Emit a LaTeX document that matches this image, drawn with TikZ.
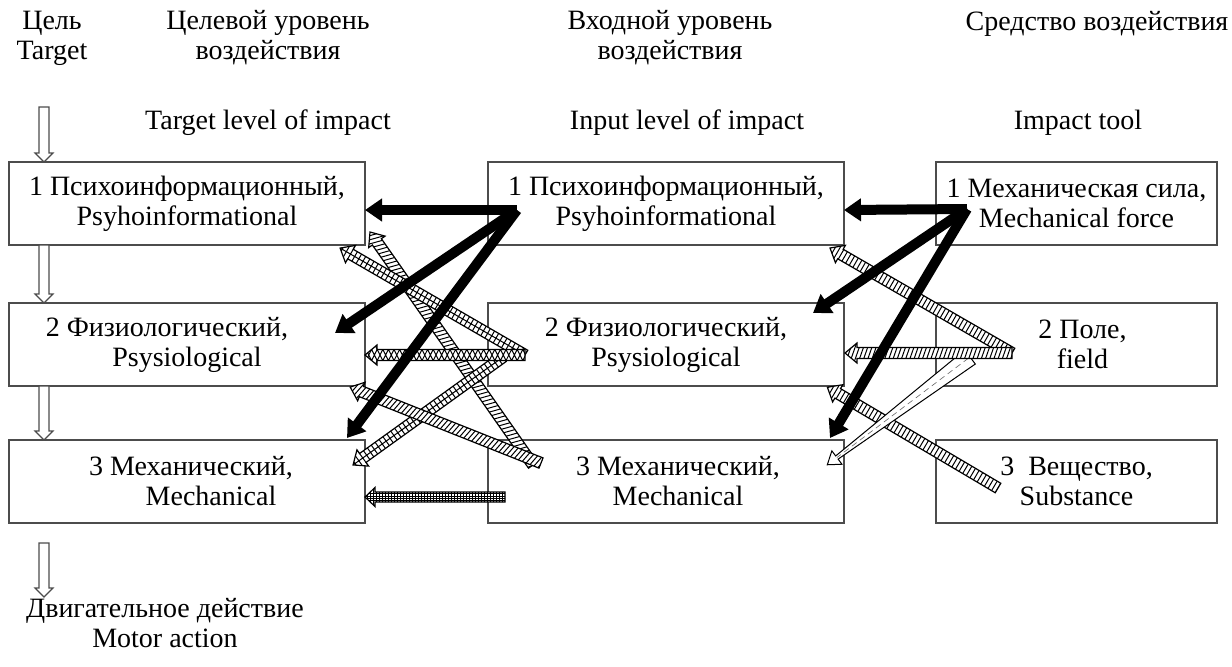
\documentclass[tikz,border=0pt]{standalone}
\usepackage{fontspec}
\setmainfont{Liberation Serif}
\usetikzlibrary{calc,arrows.meta}

% direction and length between two named coordinates
\newcommand\getdir[2]{%
  \pgfpointdiff{\pgfpointanchor{#1}{center}}{\pgfpointanchor{#2}{center}}%
  \pgfgetlastxy{\FAdx}{\FAdy}%
  \pgfmathsetmacro\FAang{atan2(\FAdy,\FAdx)}%
  \pgfmathsetmacro\FAlen{veclen(\FAdx,\FAdy)}}

% hatch fillings in local (arrow) coordinates
\newcommand\hatchnone{}
\newcommand\hatchdiag{\draw[hatchline] \foreach \i in {-4,...,75}{ ({\i*2.1pt},-5pt) -- ({\i*2.1pt+3.5pt},5pt) };}
\newcommand\hatchrungs{\draw[hatchline] \foreach \i in {-2,...,75}{ ({\i*2.1pt},-5pt) -- ({\i*2.1pt},5pt) };}
\newcommand\hatchladder{\draw[hatchline] \foreach \i in {-2,...,75}{ ({\i*2.4pt},-5pt) -- ({\i*2.4pt},5pt) } (-2pt,0pt) -- ({\FAlen pt},0pt);}
\newcommand\hatchcross{\draw[hatchline] \foreach \i in {-4,...,60}{ ({\i*2.8pt},-5pt) -- ({\i*2.8pt+5pt},5pt) ({\i*2.8pt},5pt) -- ({\i*2.8pt+5pt},-5pt) };}
\newcommand\hatchgrid{\draw[hatchline,line width=0.4pt] \foreach \i in {-2,...,100}{ ({\i*1.5pt},-5pt) -- ({\i*1.5pt},5pt) } (-2pt,-1.6pt) -- ({\FAlen pt},-1.6pt) (-2pt,-0.55pt) -- ({\FAlen pt},-0.55pt) (-2pt,0.55pt) -- ({\FAlen pt},0.55pt) (-2pt,1.6pt) -- ({\FAlen pt},1.6pt);}

% #1 start, #2 end, #3 hatch, #4 shaft half width, #5 head half width, #6 head length, #7 outline colour
\newcommand\fatarrow[7]{%
  \getdir{#1}{#2}%
  \pgfmathsetmacro\FAb{\FAlen-#6}%
  \def\FAshape{(0pt,-#4pt) -- (\FAb pt,-#4pt) -- (\FAb pt,-#5pt) -- (\FAlen pt,0pt) -- (\FAb pt,#5pt) -- (\FAb pt,#4pt) -- (0pt,#4pt) -- cycle}%
  \begin{scope}[shift={(#1)},rotate=\FAang]
    \fill[white] \FAshape;
    \begin{scope}
      \clip \FAshape;
      \csname hatch#3\endcsname
    \end{scope}
    \draw[line width=0.6pt,#7,line join=miter] \FAshape;
  \end{scope}}

\newcommand\wedgearrow[2]{%
  \getdir{#1}{#2}%
  \pgfmathsetmacro\FAb{\FAlen-6}%
  \begin{scope}[shift={(#1)},rotate=\FAang]
    \draw[line width=0.5pt,fill=white] (0pt,-4.4pt) -- (\FAb pt,-1pt) -- (\FAb pt,-4.2pt) -- (\FAlen pt,0pt) -- (\FAb pt,4.2pt) -- (\FAb pt,1pt) -- (0pt,4.4pt) -- cycle;
    \draw[line width=0.3pt,black!60,dash pattern=on 3pt off 2pt] (1pt,0pt) -- (\FAb pt,0pt);
  \end{scope}}

\begin{document}
\begin{tikzpicture}[x=0.5pt,y=-0.5pt,
  every node/.style={font=\fontsize{14}{15}\selectfont},
  txt/.style={align=center,inner sep=0pt},
  box/.style={draw=black!70,line width=0.6pt,align=center,inner sep=0pt,minimum height=41.5pt},
  lbox/.style={box,minimum width=178pt},
  rbox/.style={box,minimum width=140.5pt},
  hatchline/.style={line width=0.5pt},
  blackarr/.style={line width=5pt,-{Triangle[length=8.5pt,width=11pt]}}]
\useasboundingbox (0,0) rectangle (1232,666);

% headings
\node[txt] (hC) at (52,38) {Цель\\Target};
\node[txt] (hT) at (268,38) {Целевой уровень\\воздействия};
\node[txt] (hI) at (670,38) {Входной уровень\\воздействия};
\node[txt] (hS) at (1097,24) {Средство воздействия};
\node[txt] (eT) at (268,123) {Target level of impact};
\node[txt] (eI) at (687,123) {Input level of impact};
\node[txt] (eS) at (1078,123) {Impact tool};
\node[txt] (mo) at (165,623) {Двигательное действие\\Motor action};

% boxes
\node[lbox] (L1) at (187,203.5) {1 Психоинформационный,\\Psyhoinformational};
\node[lbox] (L2) at (187,344.5) {2 Физиологический,\rule{20pt}{0pt}\\Psysiological};
\node[lbox] (L3) at (187,481.5) {\rule{4pt}{0pt}3 Механический,\\\rule{24pt}{0pt}Mechanical};
\node[lbox] (M1) at (666,203.5) {1 Психоинформационный,\\Psyhoinformational};
\node[lbox] (M2) at (666,344.5) {2 Физиологический,\\Psysiological};
\node[lbox] (M3) at (666,481.5) {\rule{12pt}{0pt}3 Механический,\\\rule{12pt}{0pt}Mechanical};
\node[rbox] (R1) at (1076.5,203.5) {1 Механическая сила,\\Mechanical force};
\node[rbox] (R2) at (1076.5,344.5) {\rule{6pt}{0pt}2 Поле,\\\rule{6pt}{0pt}field};
\node[rbox] (R3) at (1076.5,481.5) {3\ \ Вещество,\\Substance};

% left column flow arrows
\coordinate (d0) at (44,107);
\coordinate (d4a) at (44,543);
\coordinate (d4b) at (44,597);
\coordinate (d1) at (44,162);
\coordinate (d2a) at (44,245);
\coordinate (d2b) at (44,303);
\coordinate (d3a) at (44,386);
\coordinate (d3b) at (44,440);
\fatarrow{d0}{d1}{none}{2.5}{4.5}{4.5}{black!70}
\fatarrow{d2a}{d2b}{none}{2.5}{4.5}{4.5}{black!70}
\fatarrow{d3a}{d3b}{none}{2.5}{4.5}{4.5}{black!70}
\fatarrow{d4a}{d4b}{none}{2.5}{4.5}{4.5}{black!70}

% hatched arrows, input -> target
\coordinate (m2s) at (525,355);
\coordinate (m2t) at (503,357);
\coordinate (m3a) at (533,465);
\coordinate (m3b) at (541,463);
\coordinate (m3h) at (505,497);
\coordinate (t1c) at (370,232);
\coordinate (t1b) at (340,248);
\coordinate (t2e) at (365,355);
\coordinate (t2c) at (350,387);
\coordinate (t3a) at (353,465);
\coordinate (t3e) at (365,497);
\fatarrow{m3a}{t1c}{diag}{2.75}{5}{6}{black}
\fatarrow{m2s}{t1b}{ladder}{2.75}{5}{6}{black}
\fatarrow{m2t}{t3a}{ladder}{2.75}{5}{6}{black}
\fatarrow{m3b}{t2c}{diag}{2.75}{5}{6}{black}
\fatarrow{m2s}{t2e}{cross}{2.75}{5}{6}{black}
\fatarrow{m3h}{t3e}{grid}{2.5}{4.75}{5}{black}

% hatched arrows, tool -> input
\coordinate (r2s) at (1012,353);
\coordinate (r2w) at (970,357);
\coordinate (r3s) at (998,488);
\coordinate (i1c) at (830,248);
\coordinate (i2e) at (845,353);
\coordinate (i2c) at (827,387);
\coordinate (i3a) at (827,465);
\fatarrow{r2s}{i1c}{rungs}{2.75}{5}{6}{black}
\fatarrow{r3s}{i2c}{rungs}{2.75}{5}{6}{black}
\wedgearrow{r2w}{i3a}
\fatarrow{r2s}{i2e}{diag}{2.75}{5}{6}{black}

% black arrows
\coordinate (mS) at (517,210);
\coordinate (rS) at (967,209);
\coordinate (t1e) at (365,210);
\coordinate (t2x) at (335,333);
\coordinate (t3x) at (347,438);
\coordinate (i1e) at (844,210);
\coordinate (i2x) at (813,313);
\coordinate (i3x) at (830,438);
\draw[blackarr] (mS) -- (t1e);
\draw[blackarr] (mS) -- (t2x);
\draw[blackarr] (mS) -- (t3x);
\draw[blackarr] (rS) -- (i1e);
\draw[blackarr] (rS) -- (i2x);
\draw[blackarr] (rS) -- (i3x);
\end{tikzpicture}
\end{document}
